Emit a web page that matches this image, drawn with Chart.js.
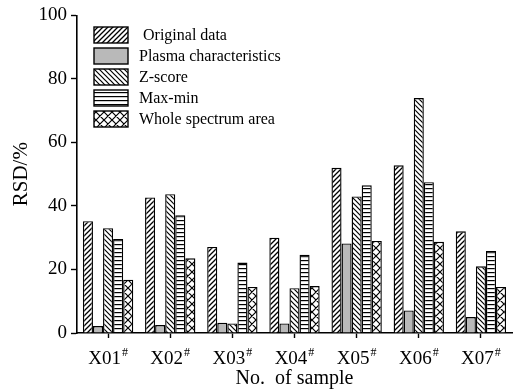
<!DOCTYPE html>
<html>
<head>
<meta charset="utf-8">
<title>RSD by sample</title>
<script src="https://cdn.jsdelivr.net/npm/chart.js@4/dist/chart.umd.min.js"></script>
<style>
    html, body { margin: 0; padding: 0; background: #ffffff; }
    #wrap { width: 514px; height: 392px; }
</style>
</head>
<body>
<div id="wrap"><canvas id="grafico"></canvas></div>
<script>
const samples = ['X01', 'X02', 'X03', 'X04', 'X05', 'X06', 'X07'];
const sampleMark = '#';

const originalData = [35.2, 42.7, 27.1, 30.0, 52.0, 52.8, 32.0];
const plasmaData = [2.2, 2.5, 3.2, 3.0, 28.2, 7.1, 5.0];
const zScoreData = [33.0, 43.7, 3.0, 14.1, 43.0, 74.0, 21.0];
const maxMinData = [29.6, 37.1, 22.2, 24.6, 46.5, 47.5, 25.8];
const wholeAreaData = [16.8, 23.5, 14.5, 14.8, 29.0, 28.7, 14.5];

const seriesNames = [' Original data', 'Plasma characteristics', 'Z-score', 'Max-min', 'Whole spectrum area'];
const yTicks = [0, 20, 40, 60, 80, 100];

const serif = '"Liberation Serif", "Times New Roman", serif';

function makePattern(kind) {
    const c = document.createElement('canvas');
    let size = 5;
    if (kind === 'cross') size = 8;
    if (kind === 'hlines') size = 4;
    c.width = size;
    c.height = size;
    const ctx = c.getContext('2d');
    ctx.fillStyle = '#ffffff';
    ctx.fillRect(0, 0, size, size);
    ctx.strokeStyle = '#000000';
    ctx.lineWidth = kind === 'up' ? 1.3 : 1.2;
    ctx.beginPath();
    if (kind === 'up' || kind === 'cross') {
        ctx.moveTo(-1, size + 1); ctx.lineTo(size + 1, -1);
        ctx.moveTo(-1, 1); ctx.lineTo(1, -1);
        ctx.moveTo(size - 1, size + 1); ctx.lineTo(size + 1, size - 1);
    }
    if (kind === 'down' || kind === 'cross') {
        ctx.moveTo(-1, -1); ctx.lineTo(size + 1, size + 1);
        ctx.moveTo(size - 1, -1); ctx.lineTo(size + 1, 1);
        ctx.moveTo(-1, size - 1); ctx.lineTo(1, size + 1);
    }
    if (kind === 'hlines') {
        ctx.moveTo(0, 0.6); ctx.lineTo(size, 0.6);
    }
    ctx.stroke();
    return document.getElementById('grafico').getContext('2d').createPattern(c, 'repeat');
}

const fills = [
    makePattern('up'),
    '#b9b9b9',
    makePattern('down'),
    makePattern('hlines'),
    makePattern('cross')
];

const seriesData = [originalData, plasmaData, zScoreData, maxMinData, wholeAreaData];

function crearDatasets() {
    return seriesData.map(function (values, i) {
        return {
            label: seriesNames[i],
            data: values,
            backgroundColor: fills[i],
            borderColor: '#000000',
            borderWidth: 1.4,
            categoryPercentage: 0.81,
            barPercentage: 1.0
        };
    });
}

// legend drawn inside the plot, top-left, with pattern boxes
const legendPlugin = {
    id: 'legendInside',
    afterDraw: function (chart) {
        const ctx = chart.ctx;
        const x0 = 94;
        const y0 = 27;
        const boxW = 34;
        const boxH = 16;
        const step = 21;
        ctx.save();
        chart.data.datasets.forEach(function (ds, i) {
            const y = y0 + i * step;
            ctx.fillStyle = ds.backgroundColor;
            ctx.fillRect(x0, y, boxW, boxH);
            ctx.strokeStyle = '#000000';
            ctx.lineWidth = 1.4;
            ctx.strokeRect(x0, y, boxW, boxH);
            ctx.fillStyle = '#000000';
            ctx.font = '16px ' + serif;
            ctx.textAlign = 'left';
            ctx.textBaseline = 'middle';
            ctx.fillText(ds.label, x0 + boxW + 11, y + boxH / 2 + 1);
        });
        ctx.restore();
    }
};

// category labels with a superscript mark
const sampleLabelPlugin = {
    id: 'sampleLabels',
    afterDraw: function (chart) {
        const ctx = chart.ctx;
        const xScale = chart.scales.x;
        const baseY = 364;
        ctx.save();
        ctx.fillStyle = '#000000';
        ctx.textBaseline = 'alphabetic';
        ctx.textAlign = 'left';
        samples.forEach(function (name, i) {
            const cx = xScale.getPixelForValue(i);
            ctx.font = '19px ' + serif;
            const wMain = ctx.measureText(name).width;
            ctx.font = '12px ' + serif;
            const wSup = ctx.measureText(sampleMark).width;
            const start = cx - (wMain + wSup + 1) / 2;
            ctx.font = '19px ' + serif;
            ctx.fillText(name, start, baseY);
            ctx.font = '12px ' + serif;
            ctx.fillText(sampleMark, start + wMain + 1, baseY - 8);
        });
        ctx.restore();
    }
};

const chart = new Chart(document.getElementById('grafico').getContext('2d'), {
    type: 'bar',
    data: {
        labels: samples,
        datasets: crearDatasets()
    },
    plugins: [legendPlugin, sampleLabelPlugin],
    options: {
        responsive: true,
        maintainAspectRatio: false,
        animation: false,
        layout: {
            padding: { top: 15, right: 2, left: 0, bottom: 0 }
        },
        plugins: {
            legend: { display: false },
            tooltip: { enabled: false }
        },
        scales: {
            x: {
                offset: true,
                grid: {
                    offset: false,
                    drawOnChartArea: false,
                    drawTicks: true,
                    tickLength: 5,
                    tickWidth: 1.4,
                    tickColor: '#000000'
                },
                border: { display: true, color: '#000000', width: 1.6 },
                ticks: {
                    color: 'rgba(0,0,0,0)',
                    font: { family: serif, size: 19 },
                    maxRotation: 0,
                    autoSkip: false
                },
                title: {
                    display: true,
                    text: 'No.  of sample',
                    color: '#000000',
                    font: { family: serif, size: 20 },
                    padding: { top: 0, bottom: 1 }
                },
                afterFit: function (scale) {
                    scale.height = 59;
                }
            },
            y: {
                min: 0,
                max: 100,
                afterBuildTicks: function (scale) {
                    scale.ticks = yTicks.map(function (v) { return { value: v }; });
                },
                grid: {
                    drawOnChartArea: false,
                    drawTicks: true,
                    tickLength: 6,
                    tickWidth: 1.4,
                    tickColor: '#000000'
                },
                border: { display: true, color: '#000000', width: 1.6 },
                ticks: {
                    color: '#000000',
                    padding: 4,
                    font: { family: serif, size: 19 }
                },
                title: {
                    display: true,
                    text: 'RSD/%',
                    color: '#000000',
                    font: { family: serif, size: 21 },
                    padding: { top: 9, bottom: 0 }
                },
                afterFit: function (scale) {
                    scale.width = 77;
                }
            }
        }
    }
});
</script>
</body>
</html>
